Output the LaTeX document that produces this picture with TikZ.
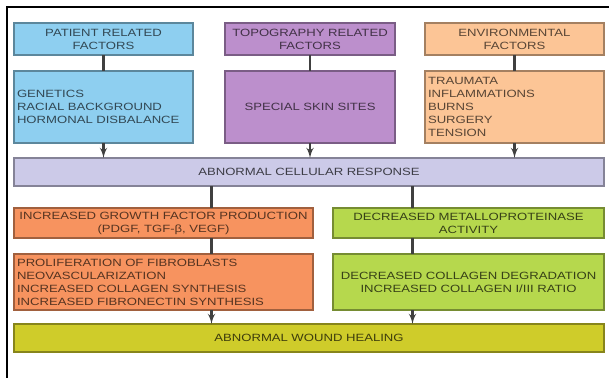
\documentclass[tikz,border=0pt]{standalone}
\usepackage{fontspec}
\setmainfont{Liberation Sans}[FakeStretch=1.25]
\usepackage{xcolor}
\usepackage{tikz}
\usetikzlibrary{arrows,positioning}
\definecolor{patientblue}{HTML}{8ECFF0}
\definecolor{topopurple}{HTML}{BC8FCC}
\definecolor{envorange}{HTML}{FCC596}
\definecolor{celllilac}{HTML}{CCCAE8}
\definecolor{growthred}{HTML}{F7935F}
\definecolor{enzymegreen}{HTML}{B6D84D}
\definecolor{healyellow}{HTML}{CFCC2A}
\tikzstyle{block} = [draw, line width=1.2pt, rectangle, outer sep=0pt, inner xsep=3pt, inner ysep=2pt, font=\fontsize{10.5}{13}\selectfont]
\tikzstyle{head} = [block, minimum height=32pt, align=center]
\tikzstyle{detail} = [block, minimum height=72pt]
\tikzstyle{wide} = [block, text width=584pt, minimum height=28pt, align=center]
\tikzstyle{patient} = [fill=patientblue, draw=patientblue!65!black, text=patientblue!35!black]
\tikzstyle{topo} = [fill=topopurple, draw=topopurple!65!black, text=topopurple!35!black]
\tikzstyle{env} = [fill=envorange, draw=envorange!65!black, text=envorange!35!black]
\tikzstyle{cellular} = [fill=celllilac, draw=celllilac!65!black, text=celllilac!30!black]
\tikzstyle{growth} = [fill=growthred, draw=growthred!65!black, text=growthred!35!black]
\tikzstyle{enzyme} = [fill=enzymegreen, draw=enzymegreen!65!black, text=enzymegreen!30!black]
\tikzstyle{healing} = [fill=healyellow, draw=healyellow!65!black, text=healyellow!30!black]
\tikzstyle{link} = [draw=black!75, line width=2.5pt]
\tikzstyle{rim} = [draw=black, line width=2pt]

\begin{document}
\begin{tikzpicture}[auto, x=1pt, y=1pt, node distance=16pt, >=latex']
  \useasboundingbox (0,0) rectangle (609,-378);
  \draw [rim] (609,-7) -- (7,-7) -- (7,-378);

  \node [head, patient, text width=173pt, anchor=north west] (pf) at (14,-23) {PATIENT RELATED\\FACTORS};
  \node [head, topo, text width=164pt, right=32pt of pf] (tf) {TOPOGRAPHY RELATED\\FACTORS};
  \node [head, env, text width=173pt, right=30pt of tf] (ef) {ENVIRONMENTAL\\FACTORS};

  \node [detail, patient, text width=173pt, align=left, below=of pf] (pd) {GENETICS\\RACIAL BACKGROUND\\HORMONAL DISBALANCE};
  \node [detail, topo, text width=164pt, align=center, below=of tf] (td) {SPECIAL SKIN SITES};
  \node [detail, env, text width=173pt, align=left, below=of ef] (ed) {TRAUMATA\\INFLAMMATIONS\\BURNS\\SURGERY\\TENSION};

  \node [wide, cellular, below=15pt of pd.south west, anchor=north west] (cr) {ABNORMAL CELLULAR RESPONSE};

  \node [block, growth, text width=293pt, minimum height=30pt, align=center, below=22pt of cr.south west, anchor=north west] (ig) {INCREASED GROWTH FACTOR PRODUCTION\\(PDGF, TGF-β, VEGF)};
  \node [block, enzyme, text width=265pt, minimum height=30pt, align=center, right=20pt of ig] (dm) {DECREASED METALLOPROTEINASE\\ACTIVITY};
  \node [block, growth, text width=293pt, minimum height=56pt, align=left, below=of ig] (pr) {PROLIFERATION OF FIBROBLASTS\\NEOVASCULARIZATION\\INCREASED COLLAGEN SYNTHESIS\\INCREASED FIBRONECTIN SYNTHESIS};
  \node [block, enzyme, text width=265pt, minimum height=56pt, align=center, below=of dm] (dc) {DECREASED COLLAGEN DEGRADATION\\INCREASED COLLAGEN I/III RATIO};

  \node [wide, healing, below=14pt of pr.south west, anchor=north west] (awh) {ABNORMAL WOUND HEALING};

  \coordinate [xshift=48pt] (fanl) at (ig.north);
  \coordinate [xshift=-56pt] (fanr) at (dm.north);

  \draw [link] (pf) -- (pd);
  \draw [link] (tf) -- (td);
  \draw [link] (ef) -- (ed);
  \draw [link, ->] (pd) -- (pd |- cr.north);
  \draw [link, ->] (td) -- (td |- cr.north);
  \draw [link, ->] (ed) -- (ed |- cr.north);
  \draw [link] (cr.south -| fanl) -- (fanl);
  \draw [link] (cr.south -| fanr) -- (fanr);
  \draw [link] (ig.south -| fanl) -- (pr.north -| fanl);
  \draw [link] (dm.south -| fanr) -- (dc.north -| fanr);
  \draw [link, ->] (pr.south -| fanl) -- (awh.north -| fanl);
  \draw [link, ->] (dc.south -| fanr) -- (awh.north -| fanr);
\end{tikzpicture}
\end{document}
